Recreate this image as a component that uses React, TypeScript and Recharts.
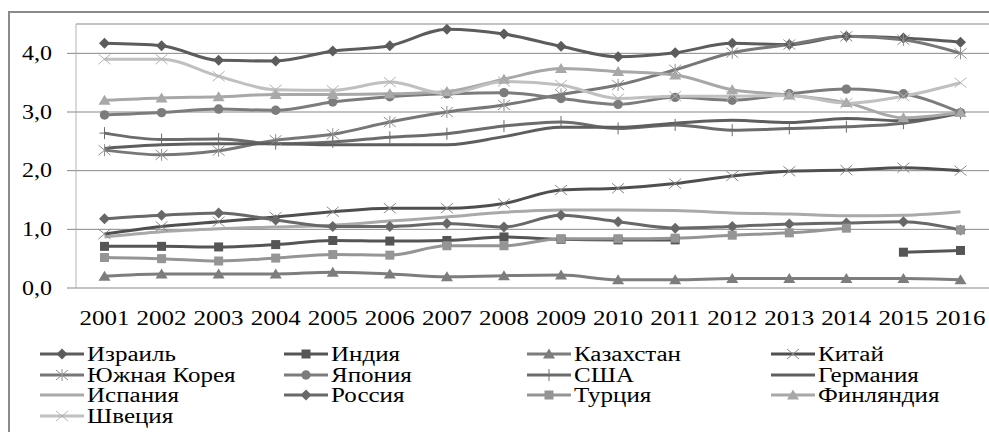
import { CartesianGrid, Line, LineChart, XAxis, YAxis } from "recharts";

const years = ["2001", "2002", "2003", "2004", "2005", "2006", "2007", "2008", "2009", "2010", "2011", "2012", "2013", "2014", "2015", "2016"];

const israel = [4.17, 4.13, 3.88, 3.87, 4.04, 4.13, 4.41, 4.33, 4.12, 3.94, 4.01, 4.17, 4.15, 4.29, 4.26, 4.19];
const india = [0.71, 0.71, 0.7, 0.74, 0.81, 0.8, 0.81, 0.87, 0.83, 0.82, 0.82, null, null, null, 0.61, 0.64];
const kazakhstan = [0.2, 0.24, 0.24, 0.24, 0.27, 0.24, 0.19, 0.21, 0.22, 0.14, 0.14, 0.16, 0.16, 0.16, 0.16, 0.14];
const china = [0.92, 1.05, 1.13, 1.21, 1.3, 1.36, 1.36, 1.44, 1.67, 1.7, 1.78, 1.91, 1.99, 2.01, 2.05, 2.0];
const korea = [2.35, 2.27, 2.34, 2.52, 2.62, 2.83, 3.0, 3.12, 3.3, 3.46, 3.72, 4.01, 4.15, 4.29, 4.23, 4.0];
const japan = [2.95, 2.99, 3.05, 3.03, 3.17, 3.26, 3.31, 3.33, 3.23, 3.13, 3.25, 3.2, 3.31, 3.39, 3.31, 2.99];
const usa = [2.64, 2.53, 2.54, 2.46, 2.49, 2.57, 2.63, 2.76, 2.83, 2.72, 2.78, 2.69, 2.72, 2.75, 2.81, 2.98];
const germany = [2.38, 2.44, 2.46, 2.46, 2.44, 2.44, 2.44, 2.58, 2.74, 2.74, 2.81, 2.86, 2.82, 2.89, 2.85, 2.99];
const spain = [0.87, 0.96, 1.01, 1.04, 1.07, 1.14, 1.21, 1.29, 1.33, 1.33, 1.32, 1.28, 1.26, 1.23, 1.24, 1.3];
const russia = [1.18, 1.24, 1.28, 1.16, 1.05, 1.05, 1.1, 1.04, 1.24, 1.13, 1.02, 1.05, 1.09, 1.11, 1.13, 0.99];
const turkey = [0.52, 0.5, 0.46, 0.51, 0.57, 0.56, 0.72, 0.72, 0.84, 0.84, 0.85, 0.9, 0.94, 1.02, null, 0.99];
const finland = [3.2, 3.24, 3.26, 3.3, 3.3, 3.31, 3.35, 3.56, 3.74, 3.69, 3.63, 3.38, 3.29, 3.16, 2.9, 2.99];
const sweden = [3.9, 3.9, 3.61, 3.38, 3.37, 3.51, 3.31, 3.52, 3.46, 3.23, 3.27, 3.27, 3.28, 3.15, 3.27, 3.5];

const yTicks = [0, 1, 2, 3, 4];
const boundaryTicks = [0, 1, 2, 3, 4, 5, 6, 7, 8, 9, 10, 11, 12, 13, 14, 15, 16];

type Shape = "diamond" | "square" | "triangle" | "x" | "star" | "circle" | "plus" | "none";

const series: { key: string; name: string; values: (number | null)[]; color: string; mark: string; shape: Shape }[] = [
  { key: "israel", name: "Израиль", values: israel, color: "#5c5c5c", mark: "#5c5c5c", shape: "diamond" },
  { key: "india", name: "Индия", values: india, color: "#555555", mark: "#555555", shape: "square" },
  { key: "kazakhstan", name: "Казахстан", values: kazakhstan, color: "#7d7d7d", mark: "#7d7d7d", shape: "triangle" },
  { key: "china", name: "Китай", values: china, color: "#4f4f4f", mark: "#8a8a8a", shape: "x" },
  { key: "korea", name: "Южная Корея", values: korea, color: "#777777", mark: "#8f8f8f", shape: "star" },
  { key: "japan", name: "Япония", values: japan, color: "#7c7c7c", mark: "#7c7c7c", shape: "circle" },
  { key: "usa", name: "США", values: usa, color: "#6c6c6c", mark: "#6c6c6c", shape: "plus" },
  { key: "germany", name: "Германия", values: germany, color: "#5e5e5e", mark: "#5e5e5e", shape: "none" },
  { key: "spain", name: "Испания", values: spain, color: "#a9a9a9", mark: "#a9a9a9", shape: "none" },
  { key: "russia", name: "Россия", values: russia, color: "#686868", mark: "#686868", shape: "diamond" },
  { key: "turkey", name: "Турция", values: turkey, color: "#959595", mark: "#959595", shape: "square" },
  { key: "finland", name: "Финляндия", values: finland, color: "#a8a8a8", mark: "#a8a8a8", shape: "triangle" },
  { key: "sweden", name: "Швеция", values: sweden, color: "#c0c0c0", mark: "#b4b4b4", shape: "x" },
];

const data = years.map((year, i) => {
  const row: Record<string, string | number | null> = { year, pos: i + 0.5 };
  series.forEach((s) => (row[s.key] = s.values[i]));
  return row;
});

const FONT = "Liberation Serif, DejaVu Serif, Times New Roman, Times, serif";

function marker(shape: Shape, cx: number, cy: number, color: string, key?: string) {
  const r = 5.5;
  switch (shape) {
    case "diamond":
      return <polygon key={key} points={`${cx},${cy - r} ${cx + r},${cy} ${cx},${cy + r} ${cx - r},${cy}`} fill={color} />;
    case "square":
      return <rect key={key} x={cx - 4.5} y={cy - 4.5} width={9} height={9} fill={color} />;
    case "triangle":
      return <polygon key={key} points={`${cx},${cy - r} ${cx + r + 0.5},${cy + 4.5} ${cx - r - 0.5},${cy + 4.5}`} fill={color} />;
    case "circle":
      return <circle key={key} cx={cx} cy={cy} r={4.7} fill={color} />;
    case "x":
      return (
        <g key={key} stroke={color} strokeWidth={1}>
          <line x1={cx - 6} y1={cy - 5} x2={cx + 6} y2={cy + 5} />
          <line x1={cx - 6} y1={cy + 5} x2={cx + 6} y2={cy - 5} />
        </g>
      );
    case "star":
      return (
        <g key={key} stroke={color} strokeWidth={1}>
          <line x1={cx - 6} y1={cy - 5} x2={cx + 6} y2={cy + 5} />
          <line x1={cx - 6} y1={cy + 5} x2={cx + 6} y2={cy - 5} />
          <line x1={cx} y1={cy - 6} x2={cx} y2={cy + 6} />
        </g>
      );
    case "plus":
      return (
        <g key={key} stroke={color} strokeWidth={1}>
          <line x1={cx} y1={cy - 6} x2={cx} y2={cy + 6} />
          <line x1={cx - 5} y1={cy} x2={cx + 5} y2={cy} />
        </g>
      );
    default:
      return <g key={key} />;
  }
}

const dotFor = (shape: Shape, color: string) => (props: any) => {
  const { cx, cy, value, index } = props;
  if (value == null || cx == null || cy == null) return <g key={`e${index}`} />;
  return marker(shape, cx, cy, color, `d${index}`);
};

const XTick = (props: any) => {
  const { x, y, payload } = props;
  return (
    <text x={x} y={y} dy={29} textAnchor="middle" fontFamily={FONT} fontSize={20} fill="#000"
      textLength={50} lengthAdjust="spacingAndGlyphs">
      {payload.value}
    </text>
  );
};

const YTick = (props: any) => {
  const { x, y, payload } = props;
  const label = payload.value.toFixed(1).replace(".", ",");
  return (
    <text x={x} y={y} dy="0.34em" textAnchor="end" fontFamily={FONT} fontSize={20} fill="#000"
      textLength={30} lengthAdjust="spacingAndGlyphs">
      {label}
    </text>
  );
};

function LegendBlock() {
  return (
    <div style={{ position: "absolute", left: 0, top: 344, width: 989 }}>
      {series.map((s, i) => {
        const col = i % 4;
        const row = Math.floor(i / 4);
        return (
          <div key={s.key} style={{ position: "absolute", left: 40 + col * 243.5, top: row * 20.7, height: 20, display: "flex", alignItems: "center", whiteSpace: "nowrap" }}>
            <svg width={44} height={14} style={{ display: "block" }}>
              <line x1={0} y1={7} x2={44} y2={7} stroke={s.color} strokeWidth={3} />
              {marker(s.shape, 22, 7, s.mark)}
            </svg>
            <span style={{ display: "inline-block", marginLeft: 3, fontFamily: FONT, fontSize: 20, lineHeight: "20px", color: "#000", transform: "scaleX(1.25)", transformOrigin: "left center" }}>
              {s.name}
            </span>
          </div>
        );
      })}
    </div>
  );
}

export default function App() {
  return (
    <div style={{ position: "absolute", left: 0, top: 0, width: 989, height: 432, background: "#fff", overflow: "hidden" }}>
      <div style={{ position: "absolute", left: 8, top: 11, width: 981, height: 421, borderLeft: "2px solid #8a8a8a", borderTop: "2px solid #8a8a8a" }} />
      <LineChart width={989} height={432} data={data} margin={{ top: 24, right: 0, bottom: 0, left: 0 }}>
        <CartesianGrid horizontal vertical={false} stroke="#878787" strokeWidth={1} />
        <XAxis xAxisId="bounds" type="number" dataKey="pos" domain={[0, 16]} ticks={boundaryTicks}
          tick={false} tickSize={7} tickLine={{ stroke: "#878787" }} axisLine={false} height={1} allowDataOverflow />
        <XAxis dataKey="year" tick={<XTick />} tickLine={false} axisLine={false} height={143} interval={0}
          padding={{ left: 28.5, right: 28.5 }} />
        <YAxis domain={[0, 4.5]} ticks={yTicks} width={76} tick={<YTick />} tickSize={9} tickMargin={15}
          tickLine={{ stroke: "#878787" }} axisLine={{ stroke: "#b4b4b4" }} allowDataOverflow />
        {series.map((s) => (
          <Line key={s.key} type="monotone" dataKey={s.key} name={s.name} stroke={s.color} strokeWidth={3}
            dot={dotFor(s.shape, s.mark)} activeDot={false} connectNulls={false} isAnimationActive={false} />
        ))}
      </LineChart>
      <LegendBlock />
    </div>
  );
}
